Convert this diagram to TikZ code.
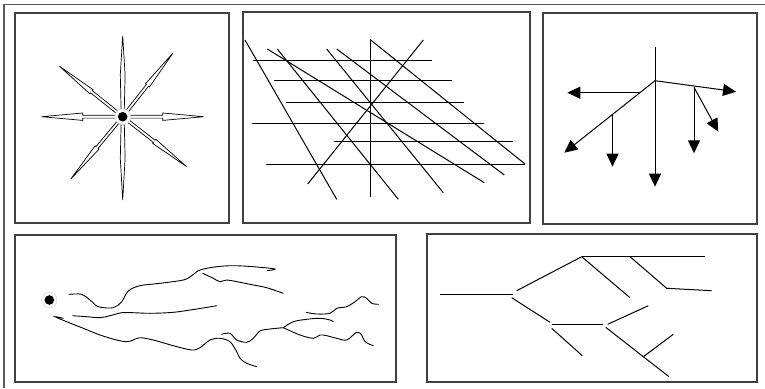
\documentclass[tikz,border=0pt]{standalone}
\usepackage{tikz}
\usetikzlibrary{arrows.meta,calc}

\tikzset{
  panel/.style={draw=black!75, line width=1.3pt},
  frameline/.style={draw=black!65, line width=1.8pt},
  spike/.style={fill=white, draw=black, line width=0.7pt, line join=miter},
  gridline/.style={draw=black, line width=1pt},
  tree/.style={draw=black, line width=1pt, -{Triangle[length=13pt,width=12pt]}},
  crack/.style={draw=black, line width=0.9pt, line cap=round},
  branch/.style={draw=black, line width=1pt},
}

\newcommand{\seeddot}[1]{%
  \fill[black!10] (#1) circle (8.2);
  \fill[white] (#1) circle (7);
  \fill[black] (#1) circle (4.8);
}

\begin{document}
\begin{tikzpicture}[x=1pt, y=-1pt]
\useasboundingbox (0,0) rectangle (765,388);

% outer frame (top and left only)
\draw[frameline] (4,388) -- (4,4.5) -- (765,4.5);

% panels
\draw[panel] (15,13) rectangle (229,223);
\draw[panel] (243,12) rectangle (530,223);
\draw[panel] (543,13) rectangle (757,224);
\draw[panel] (15,235) rectangle (396,382);
\draw[panel] (427,234) rectangle (757,382);

% panel 1: star
\begin{scope}
  \coordinate (star) at (122.7,116.7);
  \foreach \ang/\fl in {0/3.7,180/3.7,38/2.6,129.8/2.6,-141.4/2.6,-51.7/2.6} {
    \begin{scope}[shift={(star)}, rotate=-\ang]
      \filldraw[spike] (7,-1.4) -- (40,-1.4) -- (40,-\fl) -- (81,0)
        -- (40,\fl) -- (40,1.4) -- (7,1.4) -- cycle;
    \end{scope}
  }
  \foreach \ang/\len in {-90/80.7, 90/83.3} {
    \begin{scope}[shift={(star)}, rotate=-\ang]
      \filldraw[spike] (7,-1.6) -- (42,-2.4) -- (\len,0)
        -- (42,2.4) -- (7,1.6) -- cycle;
    \end{scope}
  }
  \seeddot{star}
\end{scope}

% panel 2: grid of lines
\begin{scope}
  \foreach \y/\xa/\xb in {60.7/253/432, 80.7/274/452, 102.7/286/464,
                         123.3/252/484, 141.7/334/513, 164/266/525}
    \draw[gridline] (\xa,\y) -- (\xb,\y);
  \draw[gridline] (370.7,39) -- (370.7,197);
  \draw[gridline] (245,40) -- (336.7,199.3);
  \draw[gridline] (267.3,49) -- (484.3,182.7);
  \draw[gridline] (277.3,49) -- (398.3,199.3);
  \draw[gridline] (326.7,49) -- (443.3,192.7);
  \draw[gridline] (336.7,49) -- (504.3,175);
  \draw[gridline] (370.7,40) -- (525,164);
  \draw[gridline] (307.7,184) -- (423.3,40);
\end{scope}

% panel 3: tree of arrows
\begin{scope}
  \coordinate (top) at (655,46.7);
  \coordinate (hub) at (655,80.7);
  \coordinate (lj) at (640,92.7);
  \coordinate (lk) at (612.5,115);
  \coordinate (rj) at (694,87.3);
  \draw[tree] (top) -- (655,186.7);
  \draw[tree] (hub) -- (564.3,152.7);
  \draw[tree] (lj) -- (567.3,92.7);
  \draw[tree] (lk) -- (612.5,166.7);
  \draw[tree] (hub) -- (736,91.7);
  \draw[tree] (rj) -- (694,153.3);
  \draw[tree] (rj) -- (718.3,131.7);
\end{scope}

% panel 4: cracks
\begin{scope}
  \coordinate (seed) at (49.3,300);
  \seeddot{seed}
  \draw[crack] plot[smooth, tension=0.55] coordinates {(69,294.3) (81.7,294.3)
    (90,300) (98.3,306.7) (113.3,307.7) (121.7,301.7) (128.3,291) (140,285.7)
    (160,283.3) (183.3,280) (191.7,275.7) (200,270) (216.7,266.7) (233.3,265.7)
    (253.3,266.7) (275,269) (267,270.7)};
  \draw[crack] plot[smooth, tension=0.55] coordinates {(202.7,273.3) (213.3,278.3)
    (220,281.7) (226.7,280) (240,282.3) (253.3,285) (266.7,287.7) (283.3,293.3)};
  \draw[crack] plot[smooth, tension=0.55] coordinates {(72.7,315.7) (86.7,316.7)
    (100,317.7) (110,315.7) (121.7,312.7) (133.3,312.7) (150,313.3) (173.3,312.3)
    (196.7,309) (216.7,305.7)};
  \draw[crack] plot[smooth, tension=0.55] coordinates {(63.3,318.3) (55,316.7)
    (66.7,321.7) (83.3,328.3) (100,335) (116.7,340) (126.7,341.7) (133.3,340)
    (140,337.7) (153.3,340) (173.3,345.7) (191.7,350) (200,347.7) (210,340)
    (220,338.3) (230,341.7) (236.7,351.7) (240,358.3) (246.7,363.3) (256.7,366.7)};
  \draw[crack] plot[smooth, tension=0.55] coordinates {(221.7,334.3) (230,333.3)
    (236.7,340) (246.7,342.3) (253.3,338.3) (260,331) (270,329) (283.3,327.7)};
  \draw[crack] plot[smooth, tension=0.55] coordinates {(283.3,327.7) (293.3,321.7)
    (306.7,319.3) (320,318.3) (330,320) (333.3,321.7)};
  \draw[crack] plot[smooth, tension=0.55] coordinates {(283.3,327.7) (300,335)
    (313.3,338.3) (320,335) (326.7,335.7) (336.7,338.3) (346.7,340) (356.7,332.3)
    (361.7,335) (365,341.7) (373.3,345.7)};
  \draw[crack] plot[smooth, tension=0.55] coordinates {(306,312.3) (316.7,314)
    (330,313.3) (336.7,308.3) (346.7,306.7) (355,301.7) (361.7,296.7)
    (366.7,298.3) (371.7,303.3) (378.3,304.3)};
\end{scope}

% panel 5: branching segments
\begin{scope}
  \coordinate (a1) at (581.7,256.7);
  \coordinate (a2) at (630,256.7);
  \coordinate (a3) at (666.7,288.3);
  \draw[branch] (440,294) -- (513.3,294);
  \draw[branch] (516.7,290.7) -- (a1);
  \draw[branch] (a1) -- (705,256.7);
  \draw[branch] (a1) -- (630,297.7);
  \draw[branch] (a2) -- (a3) -- (711.7,290.7);
  \draw[branch] (511.7,297.7) -- (550,322.3);
  \draw[branch] (551.7,324.3) -- (603.3,324.3);
  \draw[branch] (551.7,328.3) -- (582.3,355.7);
  \draw[branch] (607.7,324.3) -- (648.3,305.7);
  \coordinate (b1) at (643.3,356.7);
  \draw[branch] (605.7,327.3) -- (b1) -- (669,376.7);
  \draw[branch] (b1) -- (673.3,334.3);
\end{scope}

\end{tikzpicture}
\end{document}
